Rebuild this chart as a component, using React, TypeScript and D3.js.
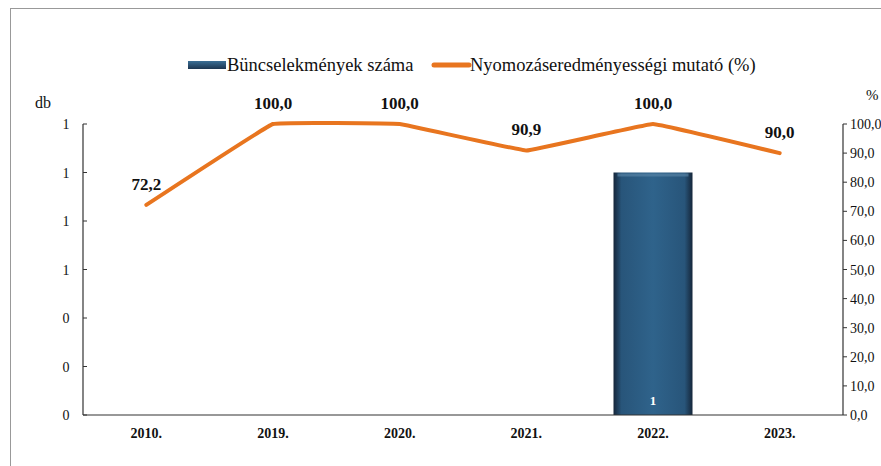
import React from "react";
import * as d3 from "d3";

const categories = ["2010.", "2019.", "2020.", "2021.", "2022.", "2023."];
const crimeCounts: (number | null)[] = [null, null, null, null, 1, null];
const clearanceRate = [72.2, 100.0, 100.0, 90.9, 100.0, 90.0];
const leftTicks = [0, 0.2, 0.4, 0.6, 0.8, 1.0, 1.2];
const rightTicks = [0, 10, 20, 30, 40, 50, 60, 70, 80, 90, 100];
const barLabel = "Büncselekmények száma";
const lineLabel = "Nyomozáseredményességi mutató (%)";

const W = 881, H = 466;
const FONT = "Liberation Serif, DejaVu Serif, serif";
const plot = { left: 83, right: 843, top: 124, bottom: 415 };

export default function App() {
  const x = d3.scaleBand<string>().domain(categories).range([plot.left, plot.right]).padding(0);
  const yL = d3.scaleLinear().domain([0, 1.2]).range([plot.bottom, plot.top]);
  const yR = d3.scaleLinear().domain([0, 100]).range([plot.bottom, plot.top]);
  const cx = (c: string) => (x(c) as number) + x.bandwidth() / 2;
  const line = d3.line<number>().x((_, i) => cx(categories[i])).y((v) => yR(v)).curve(d3.curveCardinal.tension(0.85));
  const barW = 79;
  const fmt = (v: number) => v.toFixed(1).replace(".", ",");
  const fmtL = (v: number) => d3.format(".0f")(v);

  return (
    <div style={{ position: "absolute", left: 0, top: 0 }}>
      <svg width={W} height={H} style={{ display: "block" }} fontFamily={FONT}>
        <defs>
          <linearGradient id="barGrad" x1="0" x2="1" y1="0" y2="0">
            <stop offset="0" stopColor="#15263a" />
            <stop offset="0.1" stopColor="#28557a" />
            <stop offset="0.5" stopColor="#2f638b" />
            <stop offset="0.9" stopColor="#28557a" />
            <stop offset="1" stopColor="#15263a" />
          </linearGradient>
          <linearGradient id="legBar" x1="0" x2="0" y1="0" y2="1">
            <stop offset="0" stopColor="#3b6f96" />
            <stop offset="1" stopColor="#1c3550" />
          </linearGradient>
        </defs>
        <rect x={0} y={0} width={W} height={H} fill="#fff" />
        {/* frame */}
        <line x1={10} y1={8.5} x2={W} y2={8.5} stroke="#999" strokeWidth={1} />
        <line x1={10.5} y1={8} x2={10.5} y2={H} stroke="#999" strokeWidth={1} />

        {/* legend */}
        <rect x={188} y={61} width={38} height={8} fill="url(#legBar)" />
        <text x={227} y={71} fontSize={18.5} fill="#111" fontFamily={FONT}>{barLabel}</text>
        <line x1={434} y1={65} x2={469} y2={65} stroke="#e8751f" strokeWidth={5} strokeLinecap="round" />
        <text x={470} y={71} fontSize={18.5} fill="#111" fontFamily={FONT}>{lineLabel}</text>

        {/* axis units */}
        <text x={35} y={108} fontSize={16} fill="#111" fontFamily={FONT}>db</text>
        <text x={866} y={100} fontSize={15} fill="#111" fontFamily={FONT}>%</text>

        {/* bars */}
        {crimeCounts.map((v, i) =>
          v == null ? null : (
            <g key={i}>
              <rect x={cx(categories[i]) - barW / 2} y={yL(v)} width={barW} height={yL(0) - yL(v)} fill="url(#barGrad)" />
              <rect x={cx(categories[i]) - barW / 2 + 4} y={yL(v) + 1} width={barW - 8} height={3} fill="#5d88aa" opacity={0.6} />
              <text x={cx(categories[i])} y={yL(0) - 10} fontSize={13} fontWeight="bold" fill="#fff" textAnchor="middle" fontFamily={FONT}>{fmtL(v)}</text>
            </g>
          )
        )}

        {/* left axis */}
        <line x1={plot.left} y1={plot.top} x2={plot.left} y2={plot.bottom} stroke="#333" strokeWidth={1.2} />
        {leftTicks.map((t, i) => (
          <g key={i}>
            <line x1={plot.left} x2={plot.left + 4} y1={yL(t)} y2={yL(t)} stroke="#333" />
            <text x={66} y={yL(t) + 5} fontSize={14} textAnchor="middle" fill="#111" fontFamily={FONT}>{fmtL(t)}</text>
          </g>
        ))}
        {/* right axis */}
        <line x1={plot.right} y1={plot.top} x2={plot.right} y2={plot.bottom} stroke="#333" strokeWidth={1.2} />
        {rightTicks.map((t, i) => (
          <g key={i}>
            <line x1={plot.right} x2={plot.right + 4} y1={yR(t)} y2={yR(t)} stroke="#333" />
            <text x={850} y={yR(t) + 5} fontSize={14} fill="#111" fontFamily={FONT}>{fmt(t)}</text>
          </g>
        ))}
        {/* bottom axis */}
        <line x1={plot.left} y1={plot.bottom} x2={plot.right} y2={plot.bottom} stroke="#333" strokeWidth={1.2} />
        {categories.map((c) => (
          <text key={c} x={cx(c)} y={438} fontSize={14} fontWeight="bold" textAnchor="middle" fill="#111" fontFamily={FONT}>{c}</text>
        ))}

        {/* line */}
        <path d={line(clearanceRate) || ""} fill="none" stroke="#e8751f" strokeWidth={4} strokeLinejoin="round" strokeLinecap="round" />
        {clearanceRate.map((v, i) => (
          <text key={i} x={cx(categories[i])} y={yR(v) - 15} fontSize={17} fontWeight="bold" textAnchor="middle" fill="#111" fontFamily={FONT}>{fmt(v)}</text>
        ))}
      </svg>
    </div>
  );
}
